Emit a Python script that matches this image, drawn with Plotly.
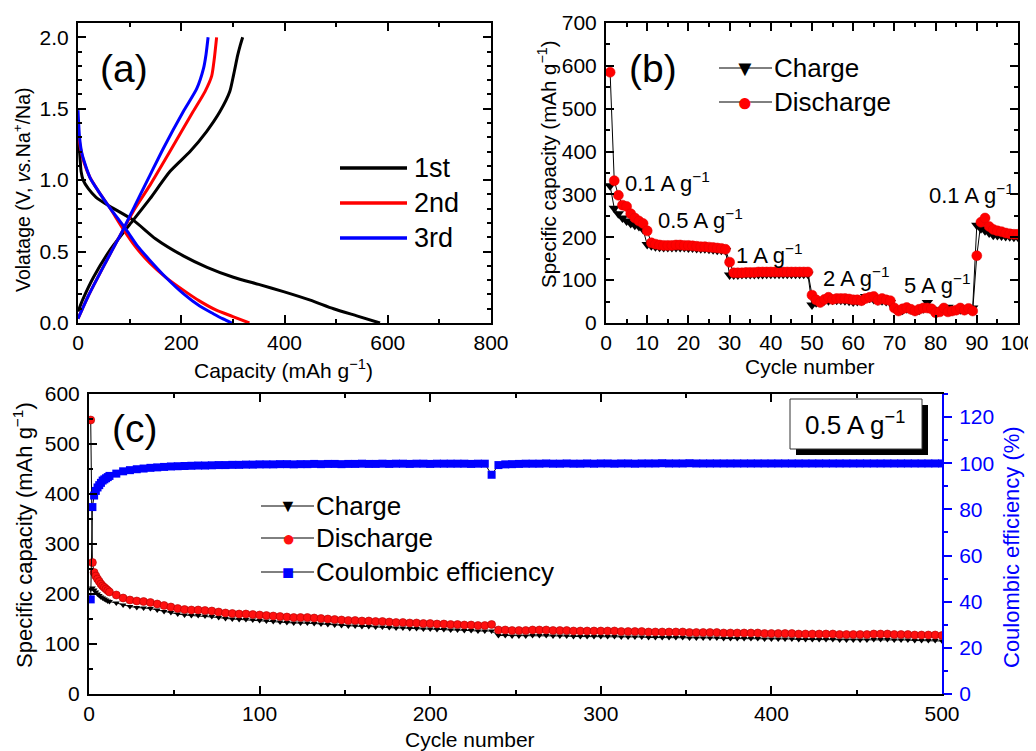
import plotly.graph_objects as go

# The page body keeps a default 8 px margin, so the figure is drawn 8 px in
# from the window's top-left corner; positions below are window pixels.
OFF = 8
W, H = 1036 - OFF, 751 - OFF
FONT = "Liberation Sans, Arial, sans-serif"


def px(x):
    return (x - OFF) / W


def py(y):
    return 1 - (y - OFF) / H


# ---------------- (a) voltage profiles ----------------
cap_1st_dis = [0, 2, 4, 6, 10, 20, 35, 60, 107, 150, 204, 250, 301, 350, 398, 450, 495, 540, 585]
v_1st_dis = [1.32, 1.25, 1.15, 1.06, 1.0, 0.94, 0.88, 0.82, 0.72, 0.59, 0.47, 0.39, 0.32, 0.27, 0.22, 0.16, 0.10, 0.05, 0.0]
cap_1st_chg = [0, 10, 30, 60, 87, 107, 139.5, 178, 217, 249, 275, 294, 301, 305, 309, 314, 319]
v_1st_chg = [0.08, 0.17, 0.32, 0.5, 0.63, 0.72, 0.87, 1.06, 1.20, 1.34, 1.48, 1.62, 1.73, 1.80, 1.87, 1.94, 2.0]
cap_2nd_dis = [0, 5, 12, 23, 40, 61, 87, 110, 139, 170, 204, 235, 268, 300, 332]
v_2nd_dis = [1.35, 1.22, 1.12, 1.02, 0.92, 0.81, 0.66, 0.54, 0.42, 0.32, 0.23, 0.155, 0.09, 0.045, 0.0]
cap_2nd_chg = [0, 20, 50, 87, 110, 139.5, 178, 223, 246, 259, 264, 268.5]
v_2nd_chg = [0.03, 0.19, 0.40, 0.65, 0.80, 0.965, 1.20, 1.48, 1.62, 1.73, 1.85, 2.0]
cap_3rd_dis = [0, 3, 8, 23, 40, 61, 94, 115, 139, 170, 204, 235, 262, 280, 298]
v_3rd_dis = [1.49, 1.30, 1.18, 1.02, 0.92, 0.81, 0.65, 0.54, 0.44, 0.32, 0.205, 0.12, 0.065, 0.03, 0.0]
cap_3rd_chg = [0, 20, 50, 87, 110, 139.5, 165, 204, 230, 243, 248, 252]
v_3rd_chg = [0.03, 0.19, 0.40, 0.65, 0.82, 1.035, 1.22, 1.48, 1.64, 1.78, 1.88, 2.0]

# ---------------- (b) rate performance ----------------
rate_cycles = list(range(1, 101))
rate_discharge = [
    585, 332, 298, 275, 272, 255, 245, 238, 232, 215,
    187, 184, 182, 181, 181, 181, 182, 182, 181, 181,
    180, 179, 178, 178, 177, 176, 175, 174, 172, 142,
    117, 117, 117, 118, 118, 118, 119, 119, 119, 119,
    119, 119, 119, 119, 119, 119, 119, 119, 119, 65,
    54, 48, 55, 60, 55, 57, 57, 57, 56, 54,
    54, 52, 57, 60, 62, 53, 57, 54, 52, 35,
    28, 33, 36, 32, 28, 32, 35, 35, 33, 24,
    26, 35, 26, 28, 30, 35, 30, 34, 28, 157,
    235, 245, 225, 218, 215, 213, 210, 208, 207, 207,
]
rate_charge = [
    320, 268, 255, 245, 238, 232, 228, 225, 218, 183,
    180, 178, 177, 176, 176, 176, 176, 176, 176, 175,
    175, 174, 173, 173, 172, 171, 170, 170, 169, 112,
    112, 112, 113, 113, 113, 113, 113, 113, 114, 114,
    114, 114, 114, 114, 114, 114, 114, 114, 114, 42,
    47, 50, 52, 52, 53, 53, 53, 52, 51, 49,
    50, 52, 62, 58, 55, 52, 52, 50, 48, 33,
    30, 30, 33, 31, 28, 30, 33, 48, 32, 30,
    30, 32, 37, 30, 30, 31, 33, 33, 35, 228,
    220, 215, 210, 205, 204, 203, 202, 201, 200, 200,
]
rate_labels = ["0.1 A g<sup>−1</sup>", "0.5 A g<sup>−1</sup>", "1 A g<sup>−1</sup>",
               "2 A g<sup>−1</sup>", "5 A g<sup>−1</sup>", "0.1 A g<sup>−1</sup>"]

# ---------------- (c) long cycling at 0.5 A/g ----------------
cyc_cycles = list(range(1, 13)) + list(range(16, 501, 4))
cyc_discharge = [
    548, 263, 243, 236, 230, 225, 220, 216, 213, 210, 207, 204,
    198, 192, 188, 186, 185, 183, 180, 177, 174, 171,
    169, 168, 168, 167, 166, 164, 162, 161, 160, 160,
    159, 158, 157, 156, 155, 154, 153, 153, 153, 152,
    151, 150, 149, 148, 147, 147, 146, 146, 145, 145,
    144, 143, 143, 142, 142, 141, 141, 140, 140, 139,
    139, 138, 138, 137, 137, 139, 128, 128, 127, 127,
    127, 128, 128, 128, 127, 127, 127, 126, 126, 126,
    126, 126, 126, 126, 125, 125, 125, 125, 124, 124,
    124, 124, 124, 124, 123, 123, 123, 123, 123, 122,
    122, 122, 122, 122, 122, 121, 121, 121, 121, 121,
    120, 120, 120, 120, 120, 120, 119, 119, 119, 119,
    119, 120, 120, 120, 119, 119, 119, 118, 118, 118,
    118, 117,
]
cyc_charge = [
    210, 212, 208, 204, 200, 197, 194, 192, 190, 188, 186, 185,
    182, 178, 175, 173, 172, 171, 168, 165, 163, 160,
    158, 157, 157, 156, 155, 153, 151, 150, 149, 149,
    148, 147, 146, 145, 144, 143, 142, 142, 142, 141,
    140, 139, 138, 137, 136, 136, 135, 135, 134, 134,
    133, 132, 132, 131, 131, 130, 130, 129, 129, 128,
    128, 127, 127, 126, 126, 126, 117, 117, 116, 116,
    116, 117, 117, 117, 116, 116, 116, 115, 115, 115,
    115, 115, 115, 115, 114, 114, 114, 114, 113, 113,
    113, 113, 113, 113, 112, 112, 112, 112, 112, 111,
    111, 111, 111, 111, 111, 110, 110, 110, 110, 110,
    109, 109, 109, 109, 109, 109, 108, 108, 108, 108,
    108, 109, 109, 109, 108, 108, 108, 107, 107, 107,
    107, 106,
]
cyc_ce = [
    41, 81, 86, 88, 89.5, 90.5, 91.5, 92.5, 93, 93.5, 94, 94.5,
    95.5, 96.5, 97, 97.4, 97.7, 98, 98.2, 98.4, 98.6, 98.7,
    98.8, 98.9, 99, 99, 99.1, 99.2, 99.2, 99.3, 99.3, 99.4,
    99.4, 99.5, 99.5, 99.5, 99.6, 99.6, 99.5, 99.6, 99.6, 99.7,
    99.6, 99.7, 99.7, 99.6, 99.7, 99.7, 99.8, 99.7, 99.7, 99.8,
    99.7, 99.8, 99.8, 99.7, 99.8, 99.8, 99.7, 99.8, 99.8, 99.8,
    99.8, 99.8, 99.7, 99.8, 99.8, 95, 99.2, 99.5, 99.6, 99.7,
    99.8, 99.8, 99.8, 99.9, 99.8, 99.8, 99.9, 99.8, 99.8, 99.9,
    99.8, 99.9, 99.9, 99.8, 99.9, 99.9, 99.8, 99.9, 99.9, 99.9,
    100, 99.9, 99.9, 99.9, 100, 99.9, 99.9, 99.9, 99.9, 99.9,
    99.9, 99.9, 99.9, 99.9, 99.9, 99.9, 99.9, 99.9, 99.9, 99.9,
    99.9, 99.9, 99.9, 99.9, 99.9, 99.9, 99.9, 99.9, 99.9, 99.9,
    99.9, 99.9, 99.9, 99.9, 99.9, 99.9, 99.9, 99.9, 99.9, 99.9,
    99.9, 99.9,
]

fig = go.Figure()

# (a) traces
for xs, ys, col in [
    (cap_1st_dis, v_1st_dis, "black"), (cap_1st_chg, v_1st_chg, "black"),
    (cap_2nd_dis, v_2nd_dis, "red"), (cap_2nd_chg, v_2nd_chg, "red"),
    (cap_3rd_dis, v_3rd_dis, "blue"), (cap_3rd_chg, v_3rd_chg, "blue"),
]:
    fig.add_trace(go.Scatter(x=xs, y=ys, mode="lines", xaxis="x", yaxis="y",
                             line=dict(color=col, width=3, shape="spline", smoothing=0.6),
                             showlegend=False))

# (b) traces
fig.add_trace(go.Scatter(x=rate_cycles, y=rate_charge, mode="lines+markers", xaxis="x2", yaxis="y2",
                         line=dict(color="black", width=1),
                         marker=dict(symbol="triangle-down", size=10, color="black"),
                         showlegend=False))
fig.add_trace(go.Scatter(x=rate_cycles, y=rate_discharge, mode="lines+markers", xaxis="x2", yaxis="y2",
                         line=dict(color="black", width=1),
                         marker=dict(symbol="circle", size=10, color="#ff0000",
                                     line=dict(color="#e00000", width=0.5)),
                         showlegend=False))

# (c) traces
fig.add_trace(go.Scatter(x=cyc_cycles, y=cyc_charge, mode="lines+markers", xaxis="x3", yaxis="y3",
                         line=dict(color="black", width=1),
                         marker=dict(symbol="triangle-down", size=6, color="black"),
                         showlegend=False))
fig.add_trace(go.Scatter(x=cyc_cycles, y=cyc_discharge, mode="lines+markers", xaxis="x3", yaxis="y3",
                         line=dict(color="black", width=1),
                         marker=dict(symbol="circle", size=8, color="#ff1010",
                                     line=dict(color="#b00000", width=0.6)),
                         showlegend=False))
fig.add_trace(go.Scatter(x=cyc_cycles, y=cyc_ce, mode="lines+markers", xaxis="x3", yaxis="y4",
                         line=dict(color="black", width=1),
                         marker=dict(symbol="square", size=8, color="#0000ff"),
                         showlegend=False))

tickfont = dict(family=FONT, size=21, color="black")


def ax(domain, rng, dtick, minor, anchor, mirror="ticks", standoff=3, **kw):
    d = dict(domain=domain, range=rng, dtick=dtick, anchor=anchor,
             ticks="inside", ticklen=8, tickwidth=2, tickcolor="black",
             minor=dict(dtick=minor, ticks="inside", ticklen=4, tickwidth=1.5, tickcolor="black"),
             showline=True, linewidth=2, linecolor="black", mirror=mirror,
             showgrid=False, zeroline=False, tickfont=tickfont, ticklabelstandoff=standoff,
             automargin=False)
    d.update(kw)
    return d


fig.update_layout(
    width=W, height=H,
    margin=dict(l=0, r=0, t=0, b=0, pad=0, autoexpand=False),
    paper_bgcolor="white", plot_bgcolor="white",
    font=dict(family=FONT, color="black"),
    showlegend=False,
    xaxis=ax([px(78), px(491)], [0, 800], 200, 100, "y", standoff=0),
    yaxis=ax([py(323), py(23)], [0, 2.1], 0.5, 0.1, "x", tickformat=".1f"),
    xaxis2=ax([px(606), px(1018)], [0, 100], 10, 5, "y2", standoff=0),
    yaxis2=ax([py(323), py(23)], [0, 700], 100, 50, "x2"),
    xaxis3=ax([px(89), px(942)], [0, 500], 100, 50, "y3", standoff=0),
    yaxis3=ax([py(694), py(394)], [0, 600], 100, 50, "x3", mirror=False),
    yaxis4=dict(overlaying="y3", side="right", anchor="x3", range=[0, 130], dtick=20,
                ticks="outside", ticklen=8, tickwidth=2, tickcolor="blue",
                minor=dict(dtick=10, ticks="outside", ticklen=4, tickwidth=1.5, tickcolor="blue"),
                showline=True, linewidth=2, linecolor="blue", showgrid=False, zeroline=False,
                tickfont=dict(family=FONT, size=21, color="blue"), ticklabelstandoff=3,
                automargin=False),
)


def ann(text, x, y, size, xanchor="left", color="black", angle=0):
    return dict(text=text, x=px(x), y=py(y), xref="paper", yref="paper", showarrow=False,
                xanchor=xanchor, yanchor="middle", textangle=angle,
                font=dict(family=FONT, size=size, color=color))


annotations = [
    # panel labels
    ann("(a)", 98, 68, 39),
    ann("(b)", 627, 68, 39),
    ann("(c)", 110, 428, 39),
    # axis titles
    ann("Capacity (mAh g<sup>−1</sup>)", 283, 369, 21, xanchor="center"),
    ann("Volatage (V, <i>vs.</i>Na<sup>+</sup>/Na)", 22, 190, 19.5, xanchor="center", angle=-90),
    ann("Cycle number", 810, 366, 21, xanchor="center"),
    ann("Specific capacity (mAh g<sup>−1</sup>)", 547, 164, 20.5, xanchor="center", angle=-90),
    ann("Cycle number", 470, 739, 21, xanchor="center"),
    ann("Specific capacity (mAh g<sup>−1</sup>)", 23, 535, 22, xanchor="center", angle=-90),
    ann("Coulombic efficiency (%)", 1011, 547, 22, xanchor="center", color="blue", angle=-90),
    # rate labels (b)
    ann(rate_labels[0], 623, 182, 22),
    ann(rate_labels[1], 656, 219, 22),
    ann(rate_labels[2], 734, 254, 22),
    ann(rate_labels[3], 821, 277, 22),
    ann(rate_labels[4], 902, 284, 22),
    ann(rate_labels[5], 927, 194, 22),
    # (c) rate box
    ann("0.5 A g<sup>−1</sup>", 855, 424, 26, xanchor="center"),
    # legend (a)
    ann("1st", 412, 168, 27),
    ann("2nd", 412, 203, 27),
    ann("3rd", 412, 238, 27),
    # legend (b)
    ann("Charge", 772, 68, 26),
    ann("Discharge", 772, 102, 26),
    ann("▼", 745, 68, 22, xanchor="center"),
    ann("●", 745, 102, 26, xanchor="center", color="#ff0000"),
    # legend (c)
    ann("Charge", 314, 506, 26),
    ann("Discharge", 314, 538, 26),
    ann("Coulombic efficiency", 314, 572, 26),
    ann("▼", 288, 506, 18, xanchor="center"),
    ann("●", 288, 538, 22, xanchor="center", color="#ff1010"),
    ann("■", 288, 572, 20, xanchor="center", color="#0000ff"),
]


def hline(x0, x1, y, col="black", w=1.0):
    return dict(type="line", xref="paper", yref="paper", x0=px(x0), x1=px(x1), y0=py(y), y1=py(y),
                line=dict(color=col, width=w))


shapes = [
    hline(340, 407, 168, "black", 3.5),
    hline(340, 407, 203, "red", 3.5),
    hline(340, 407, 238, "blue", 3.5),
    hline(719, 772, 68), hline(719, 772, 102),
    hline(261, 314, 506), hline(261, 314, 538), hline(261, 314, 572),
    dict(type="rect", xref="paper", yref="paper", x0=px(796), x1=px(928), y0=py(455), y1=py(405),
         fillcolor="black", line=dict(width=0)),
    dict(type="rect", xref="paper", yref="paper", x0=px(790), x1=px(922), y0=py(449), y1=py(399),
         fillcolor="white", line=dict(color="#333333", width=1)),
]

fig.update_layout(annotations=annotations, shapes=shapes)
fig.write_html("out.html")
